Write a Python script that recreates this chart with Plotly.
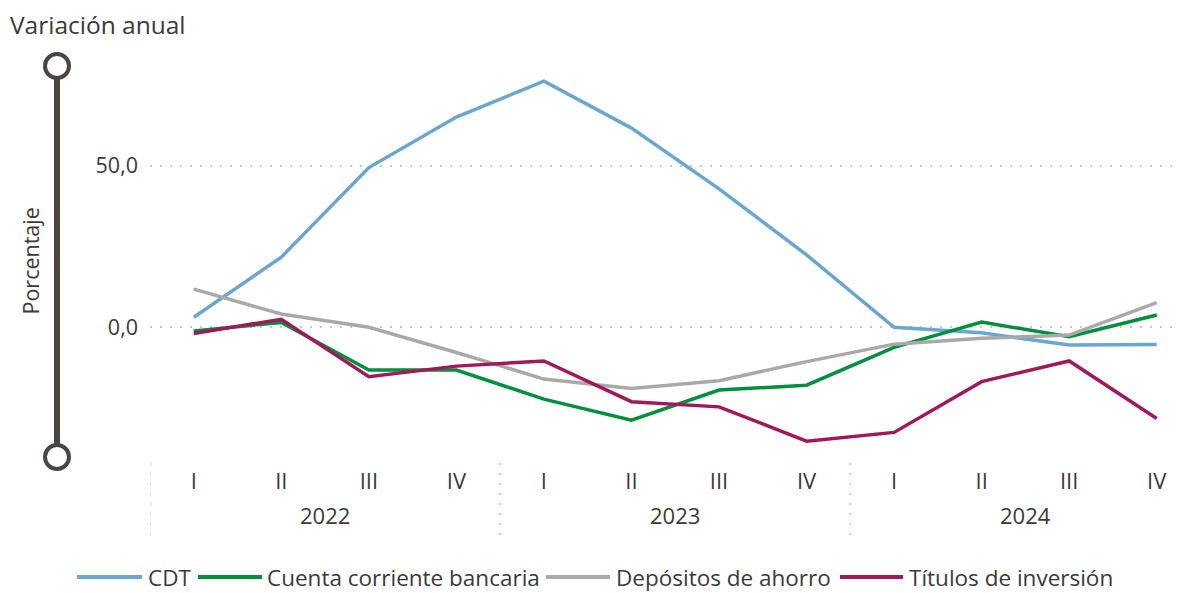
import plotly.graph_objects as go

quarters = ["I", "II", "III", "IV"] * 3
years = ["2022", "2023", "2024"]
series_names = ["CDT", "Cuenta corriente bancaria", "Depósitos de ahorro", "Títulos de inversión"]
cdt = [3.1, 21.7, 49.4, 65.0, 76.1, 61.6, 42.8, 22.4, 0.0, -1.7, -5.5, -5.3]
cuenta = [-1.1, 1.5, -13.2, -13.2, -22.2, -28.7, -19.4, -17.9, -6.2, 1.6, -2.9, 3.8]
depositos = [11.8, 4.1, 0.0, -7.8, -16.0, -18.9, -16.5, -10.6, -5.2, -3.4, -2.4, 7.6]
titulos = [-1.9, 2.5, -15.3, -12.0, -10.4, -23.0, -24.6, -35.2, -32.5, -16.8, -10.4, -28.2]
colors = ["#6aa6cd", "#008f3d", "#a9a9a9", "#a0195a"]

FONT = "Open Sans"
TXT = "#3a3a3a"
x = list(range(len(quarters)))

fig = go.Figure()
for name, vals, c in zip(series_names, [cdt, cuenta, depositos, titulos], colors):
    fig.add_trace(go.Scatter(x=x, y=vals, mode="lines", name=name, showlegend=False,
                             line=dict(color=c, width=3.5)))

OFF = 8  # page body margin
W, H = 1183 - OFF, 593 - OFF
L, R, T, B = 150 - OFF, 0, 66 - OFF, 593 - 457
pw, ph = W - L - R, H - T - B

def px_x(p):
    return (p - OFF - L) / pw

def px_y(p):
    return (H - B - (p - OFF)) / ph

shapes = []
# left decoration
shapes.append(dict(type="line", xref="paper", yref="paper", x0=px_x(57), x1=px_x(57),
                   y0=px_y(66), y1=px_y(457), line=dict(color="#4a4643", width=6), layer="above"))
for yy in (66, 457):
    shapes.append(dict(type="circle", xref="paper", yref="paper", xsizemode="pixel", ysizemode="pixel",
                       xanchor=px_x(57), yanchor=px_y(yy), x0=-12, x1=12, y0=-12, y1=12,
                       fillcolor="white", line=dict(color="#4a4643", width=4), layer="above"))
# year separators
for xs in (-0.5, 3.5, 7.5):
    shapes.append(dict(type="line", xref="x", yref="paper", x0=xs, x1=xs,
                       y0=px_y(463), y1=px_y(536), line=dict(color="#c4c4c4", width=1.5, dash="2px,8px")))

annotations = []
for i, yv in enumerate(years):
    annotations.append(dict(text=yv, xref="x", yref="paper", x=4 * i + 1.5, y=px_y(515),
                            showarrow=False, font=dict(family=FONT, size=22, color=TXT),
                            xanchor="center", yanchor="middle"))
annotations.append(dict(text="Porcentaje", xref="paper", yref="paper", x=px_x(30), y=0.5,
                        textangle=-90, showarrow=False, font=dict(family=FONT, size=21.5, color=TXT),
                        xanchor="center", yanchor="middle"))

# legend (line swatch + label), built from series names and colours
legend_pos = [(77, 142, 146), (198, 262, 265), (546, 610, 614), (840, 903, 907)]
ly = px_y(577)
for name, c, (a, b, t) in zip(series_names, colors, legend_pos):
    shapes.append(dict(type="line", xref="paper", yref="paper", x0=px_x(a), x1=px_x(b),
                       y0=ly, y1=ly, line=dict(color=c, width=4)))
    annotations.append(dict(text=name, xref="paper", yref="paper", x=px_x(t), y=ly,
                            showarrow=False, xanchor="left", yanchor="middle",
                            font=dict(family=FONT, size=22.5, color=TXT)))

fig.update_layout(
    width=W, height=H, autosize=False,
    margin=dict(l=L, r=R, t=T, b=B),
    plot_bgcolor="white", paper_bgcolor="white",
    separators=", ",
    showlegend=False,
    font=dict(family=FONT, color=TXT),
    title=dict(text="Variación anual", x=(10 - OFF) / W, xref="container", xanchor="left",
               y=1 - (25 - OFF) / H, yref="container", yanchor="middle",
               font=dict(family=FONT, size=24.5, color=TXT)),
    xaxis=dict(range=[-0.5, 11.3], tickmode="array", tickvals=x, ticktext=quarters,
               showgrid=False, zeroline=False, showline=False, ticks="",
               tickfont=dict(family=FONT, size=22, color=TXT), ticklabelstandoff=9),
    yaxis=dict(range=[-40.1, 80.8], tickmode="array", tickvals=[0, 50], tickformat=".1f",
               showgrid=True, gridcolor="#c8c8c8", gridwidth=2, griddash="2px,8px",
               zeroline=False, showline=False, ticks="",
               tickfont=dict(family=FONT, size=21.5, color=TXT), ticklabelstandoff=11),
    shapes=shapes, annotations=annotations,
)

fig.write_html("out.html")
